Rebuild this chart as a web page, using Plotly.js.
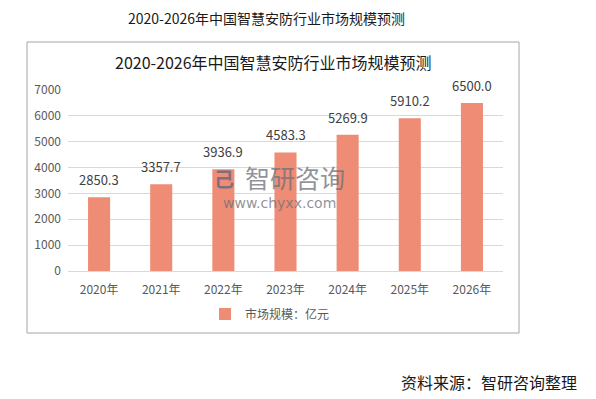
<!DOCTYPE html>
<html><head><meta charset="utf-8">
<script src="https://cdn.plot.ly/plotly-3.0.1.min.js"></script>
<style>html,body{margin:0;padding:0;background:#fff;}#c{width:596px;height:399px;}</style>
</head><body><div id="c"></div>
<script>
const categories = ['2020年','2021年','2022年','2023年','2024年','2025年','2026年'];
const values = [2850.3, 3357.7, 3936.9, 4583.3, 5269.9, 5910.2, 6500.0];
const yTicks = [0,1000,2000,3000,4000,5000,6000,7000];
const seriesName = '市场规模：亿元';
const outerTitle = '2020-2026年中国智慧安防行业市场规模预测';
const sourceText = '资料来源：智研咨询整理';

const W = 596, H = 399, L = 68, R = 503, T = 90, B = 271;
const px = x => (x - L) / (R - L);
const py = y => (B - y) / (B - T);
const font = '"Noto Sans CJK SC", "Noto Sans", sans-serif';

const trace = {
  type: 'bar', x: categories, y: values, name: seriesName,
  marker: {color: '#EE8C75'}, hoverinfo: 'skip'
};

const valueLabels = categories.map((c, i) => ({
  text: values[i].toFixed(1), x: c, y: values[i], xref: 'x', yref: 'y',
  showarrow: false, xanchor: 'center', yanchor: 'bottom', yshift: 6,
  font: {family: font, size: 13, color: '#404040'}
}));

const layout = {
  width: W, height: H,
  margin: {l: L, r: W - R, t: T, b: H - B, pad: 0},
  paper_bgcolor: '#fff', plot_bgcolor: '#fff',
  bargap: 0.645,
  showlegend: true,
  legend: {orientation: 'h', x: px(270), xanchor: 'center', y: py(314), yanchor: 'middle',
    font: {family: font, size: 12, color: '#595959'}, itemwidth: 30},
  xaxis: {tickfont: {family: font, size: 12, color: '#595959'}, showline: true, linecolor: '#d9d9d9',
    ticks: '', fixedrange: true, ticklabelstandoff: 8},
  yaxis: {range: [0, 7000], tickvals: yTicks, tickfont: {family: font, size: 12, color: '#595959'},
    gridcolor: '#d9d9d9', zeroline: false, ticks: '', ticklabelstandoff: 6, fixedrange: true},
  shapes: [
    {type: 'rect', xref: 'paper', yref: 'paper', x0: px(27), x1: px(519), y0: py(333), y1: py(42),
      line: {color: '#a6a6a6', width: 1}, fillcolor: 'rgba(0,0,0,0)', layer: 'below'}
  ],
  annotations: valueLabels.concat([
    {text: outerTitle, xref: 'paper', yref: 'paper', x: px(266), y: py(18), showarrow: false,
      xanchor: 'center', yanchor: 'middle', font: {family: font, size: 14, color: '#1a1a1a'}},
    {text: outerTitle, xref: 'paper', yref: 'paper', x: px(273), y: py(62), showarrow: false,
      xanchor: 'center', yanchor: 'middle', font: {family: font, size: 16, color: '#1a1a1a'}},
    {text: sourceText, xref: 'paper', yref: 'paper', x: px(579), y: py(382), showarrow: false,
      xanchor: 'right', yanchor: 'middle', font: {family: font, size: 16, color: '#1a1a1a'}},
    {text: '智研咨询', xref: 'paper', yref: 'paper', x: px(295), y: py(177), showarrow: false,
      xanchor: 'center', yanchor: 'middle', borderpad: 0, font: {family: font, size: 25, color: 'rgba(110,110,120,0.75)'}},
    {text: '<b>己</b>', xref: 'paper', yref: 'paper', x: px(224), y: py(178), showarrow: false,
      xanchor: 'center', yanchor: 'middle', borderpad: 0, font: {family: font, size: 20, color: 'rgba(90,100,130,0.75)'}},
    {text: 'www.chyxx.com', xref: 'paper', yref: 'paper', x: px(279), y: py(203), showarrow: false,
      xanchor: 'center', yanchor: 'middle', borderpad: 0, font: {family: '"DejaVu Sans", sans-serif', size: 14, color: 'rgba(110,110,120,0.75)'}}
  ])
};

Plotly.newPlot('c', [trace], layout, {staticPlot: true, displayModeBar: false});
</script></body></html>
